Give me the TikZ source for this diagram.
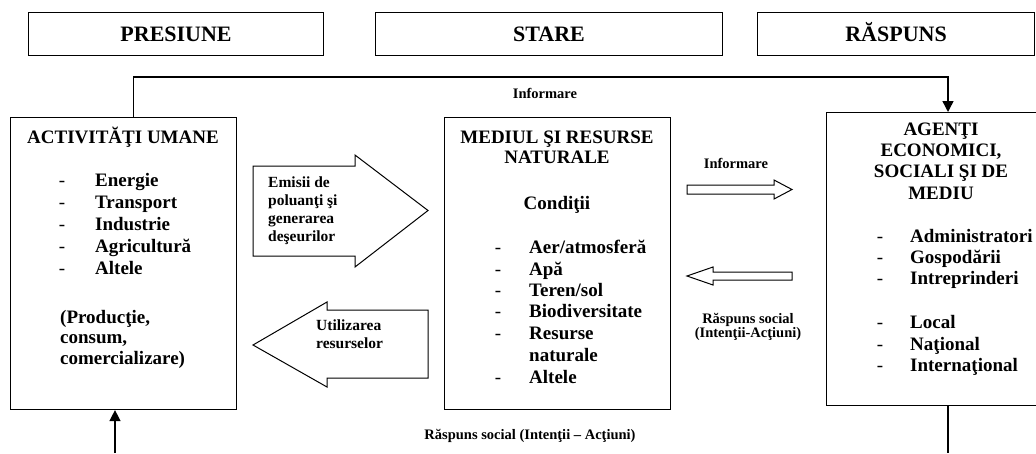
\documentclass[tikz,border=0pt]{standalone}
\usepackage{fontspec}
\setmainfont{Liberation Serif}
\usetikzlibrary{arrows.meta}
\begin{document}
\begin{tikzpicture}[x=1pt,y=-1pt,
  box/.style={draw, line width=1.1pt, rectangle, inner sep=0pt, anchor=north west},
  head/.style={inner sep=0pt, anchor=base, font=\fontsize{22}{24}\selectfont\bfseries},
  ttl/.style={inner sep=0pt, anchor=base, font=\fontsize{19}{22}\selectfont\bfseries},
  item/.style={inner sep=0pt, anchor=base west, font=\fontsize{19}{22}\selectfont\bfseries},
  dsh/.style={inner sep=0pt, anchor=base, font=\fontsize{19}{22}\selectfont},
  atxt/.style={inner sep=0pt, anchor=base west, font=\fontsize{15.5}{18}\selectfont\bfseries},
  lbl/.style={inner sep=0pt, anchor=base, font=\fontsize{14.5}{17}\selectfont\bfseries},
  blk/.style={draw, line width=1pt, line join=miter},
  conn/.style={draw, line width=1.4pt},
  tip/.style={-{Triangle[length=11pt,width=11pt]}}
]
\useasboundingbox (0,0) rectangle (1036,453);
\fill[white] (0,0) rectangle (1036,453);

% heading boxes
\node[box, minimum width=295pt, minimum height=43pt] (pres) at (28,12) {};
\node[box, minimum width=347pt, minimum height=43pt] (stare) at (375,12) {};
\node[box, minimum width=277pt, minimum height=43pt] (rasp) at (757,12) {};
\node[head] (tpres) at (pres.center |- 0,41) {PRESIUNE};
\node[head] (tstare) at (stare.center |- 0,41) {STARE};
\node[head] (trasp) at (rasp.center |- 0,41) {RĂSPUNS};

% main boxes
\node[box, minimum width=226pt, minimum height=292pt] (act) at (10,117) {};
\node[box, minimum width=226pt, minimum height=292pt] (med) at (444,117) {};
\node[box, minimum width=226pt, minimum height=293pt] (age) at (826,112) {};

% left box text
\node[ttl] (tact) at (123,143) {ACTIVITĂŢI UMANE};
\foreach \t/\yy [count=\i] in {Energie/186.5, Transport/208.5, Industrie/230.5, Agricultură/252.5, Altele/274.5}{
  \node[dsh] (ad\i) at (62,\yy) {-};
  \node[item] (ai\i) at (95,\yy) {\t};
}
\node[item] (ap1) at (60,323) {(Producţie,};
\node[item] (ap2) at (60,343.5) {consum,};
\node[item] (ap3) at (60,364) {comercializare)};

% middle box text
\node[ttl] (tmed1) at (557,143.5) {MEDIUL ŞI RESURSE};
\node[ttl] (tmed2) at (557,163.5) {NATURALE};
\node[ttl] (tcond) at (557,209.5) {Condiţii};
\foreach \yy [count=\i] in {253.5, 275.5, 296.5, 317.5, 339.5, 383.5}{
  \node[dsh] (md\i) at (498,\yy) {-};
}
\node[item] (mi1) at (529,253.5) {Aer/atmosferă};
\node[item] (mi2) at (529,275.5) {Apă};
\node[item] (mi3) at (529,296.5) {Teren/sol};
\node[item] (mi4) at (529,317.5) {Biodiversitate};
\node[item] (mi5) at (529,339.5) {Resurse};
\node[item] (mi5b) at (529,361.5) {naturale};
\node[item] (mi6) at (529,383.5) {Altele};

% right box text
\node[ttl] (tage1) at (941,135) {AGENŢI};
\node[ttl] (tage2) at (941,156.5) {ECONOMICI,};
\node[ttl] (tage3) at (941,177.5) {SOCIALI ŞI DE};
\node[ttl] (tage4) at (941,199) {MEDIU};
\foreach \t/\yy [count=\i] in {Administratori/242, Gospodării/263.5, Intreprinderi/284.5, Local/328.5, Naţional/350, Internaţional/371.5}{
  \node[dsh] (gd\i) at (880,\yy) {-};
  \node[item] (gi\i) at (910,\yy) {\t};
}

% block arrows
\draw[blk] (253,166) -- (355,166) -- (355,155) -- (428,210.5) -- (355,267) -- (355,256) -- (253,256) -- cycle;
\node[atxt] (em1) at (268,187) {Emisii de};
\node[atxt] (em2) at (268,205) {poluanţi şi};
\node[atxt] (em3) at (268,223) {generarea};
\node[atxt] (em4) at (268,241) {deşeurilor};

\draw[blk] (428,310) -- (327,310) -- (327,302) -- (253,345) -- (327,387) -- (327,378) -- (428,378) -- cycle;
\node[atxt] (ut1) at (316,330) {Utilizarea};
\node[atxt] (ut2) at (316,348) {resurselor};

\draw[blk] (687,185) -- (774,185) -- (774,180) -- (792,189.5) -- (774,199) -- (774,194) -- (687,194) -- cycle;
\node[lbl] (inf2) at (736,168) {Informare};

\draw[blk] (792,272) -- (713,272) -- (713,267) -- (687,276) -- (713,285) -- (713,280) -- (792,280) -- cycle;
\node[lbl] (rs1) at (748,323) {Răspuns social};
\node[lbl] (rs2) at (748,337) {(Intenţii-Acţiuni)};

% connectors
\coordinate (br) at (948,453);
\coordinate (bl) at (115,453);
\coordinate (top) at (948,77);
\draw[conn, tip] ([xshift=10pt]act.north) |- (top) -- (age.north -| top);
\node[lbl] (inf1) at (545,98) {Informare};

\draw[conn] (age.south -| br) -- (br);
\draw[conn, tip] (bl) -- (act.south -| bl);
\node[lbl] (rs3) at (530,439) {Răspuns social (Intenţii – Acţiuni)};
\end{tikzpicture}
\end{document}
